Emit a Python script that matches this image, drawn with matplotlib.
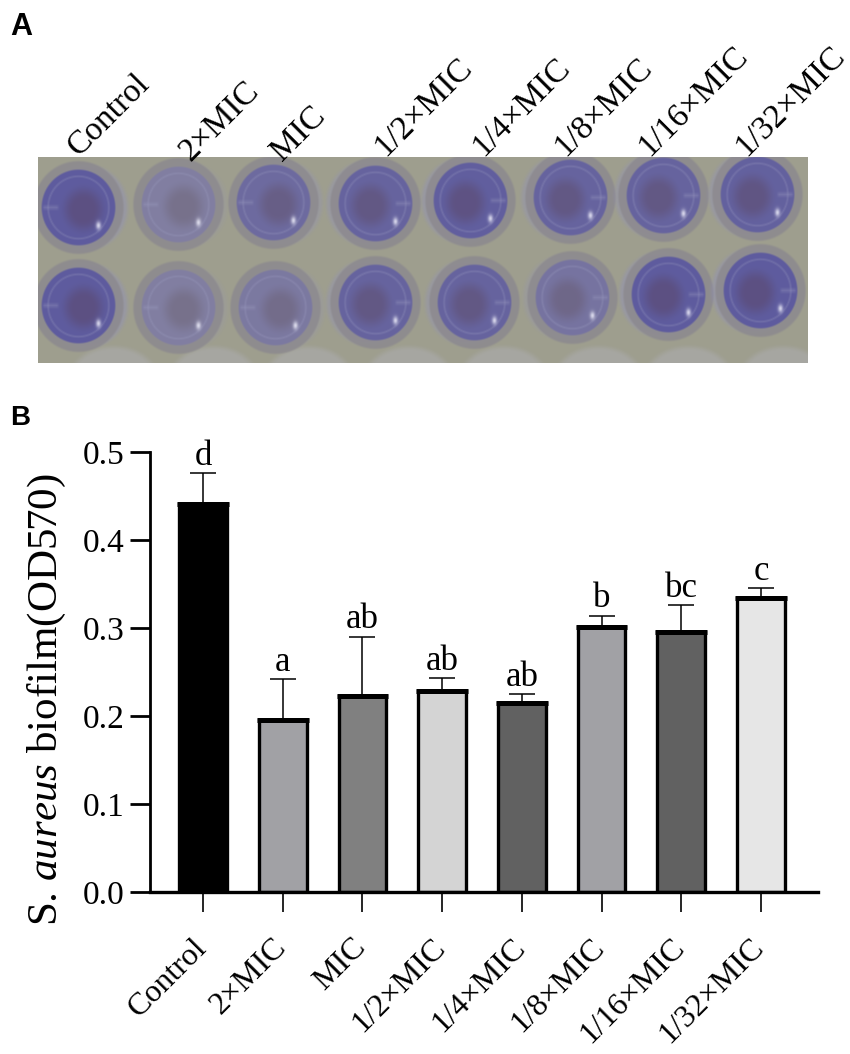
import numpy as np
import matplotlib
matplotlib.use('Agg')
import matplotlib.pyplot as plt
from matplotlib.transforms import ScaledTranslation

plt.rcParams['font.family'] = ['Liberation Serif', 'DejaVu Serif']
plt.rcParams['mathtext.fontset'] = 'custom'
plt.rcParams['mathtext.rm'] = 'Liberation Serif'
plt.rcParams['mathtext.it'] = 'Liberation Serif:italic'

# Bar chart data
groups = ['Control', '2×MIC', 'MIC', '1/2×MIC', '1/4×MIC', '1/8×MIC', '1/16×MIC', '1/32×MIC']
means = [0.441, 0.196, 0.223, 0.228, 0.215, 0.301, 0.296, 0.334]
errors = [0.035, 0.046, 0.067, 0.015, 0.010, 0.013, 0.030, 0.011]
letters = ['d', 'a', 'ab', 'ab', 'ab', 'b', 'bc', 'c']
bar_colors = ['#000000', '#a1a1a5', '#808080', '#d4d4d4', '#616161', '#a1a1a5', '#616161', '#e6e6e6']
y_ticks = [0.0, 0.1, 0.2, 0.3, 0.4, 0.5]

# Well plate photo: stain strength of each well, top and bottom row
stain_top = [1.0, 0.35, 0.72, 0.85, 0.95, 0.85, 0.85, 0.90]
stain_bottom = [1.0, 0.35, 0.45, 0.85, 0.85, 0.55, 1.0, 1.0]

W, H = 850, 1054


def px(x, y):
    return x / W, 1 - y / H


def step(d, a, b):
    t = np.clip((d - a) / (b - a), 0, 1)
    return t * t * (3 - 2 * t)


def paint(img, mask, color):
    mask = mask[..., None]
    return img * (1 - mask) + np.array(color) * mask


def plate_photo():
    h, w = 206, 770
    yy, xx = np.mgrid[0:h, 0:w].astype(float)
    img = np.ones((h, w, 3)) * [0.62, 0.62, 0.56]
    # cups of the next row, just visible along the lower edge
    for cx in [75, 175, 270, 370, 465, 560, 650, 745]:
        d = np.hypot((xx - cx) / 48, (yy - 222) / 36)
        img = paint(img, (1 - step(d, 0.8, 1.0)) * 0.4, [0.70, 0.70, 0.74])
    cx_top = [40, 140, 235, 337, 432, 532, 625, 719]
    cy_top = [50, 47, 45, 46, 43, 40, 38, 37]
    cx_bot = [40, 140, 237, 337, 436, 534, 630, 722]
    cy_bot = [148, 150, 150, 145, 145, 140, 137, 133]
    wells = list(zip(cx_top, cy_top, stain_top)) + list(zip(cx_bot, cy_bot, stain_bottom))
    for cx, cy, s in wells:
        d = np.hypot((xx - cx) / 37, (yy - cy) / 38)
        # lavender crescent of the tilted wall
        side = 1 if cx < 300 else -1
        d2 = np.hypot((xx - cx - side * 8) / 42, (yy - cy) / 43)
        img = paint(img, (1 - step(d2, 0.9, 1.05)) * 0.35 * s, [0.55, 0.55, 0.78])
        # outer rim
        img = paint(img, (1 - step(d, 1.18, 1.26)) * 0.85, [0.55, 0.54, 0.56])
        # stained wall
        wall = np.array([0.58, 0.57, 0.64]) * (1 - s) + np.array([0.37, 0.36, 0.62]) * s
        img = paint(img, 1 - step(d, 0.96, 1.03), wall)
        # ring inside the well
        ring = (1 - np.abs(d - 0.82) / 0.05).clip(0, 1) * 0.25
        img = paint(img, ring, [0.62, 0.62, 0.76])
        # struts, left for the photo's left wells and right for the others
        strut = (1 - np.abs(yy - cy) / 3.5).clip(0, 1) * (1 - step(d, 0.9, 1.0)) * step(d, 0.5, 0.6)
        strut = strut * (xx - cx < 0 if cx < 300 else xx - cx > 0)
        img = paint(img, strut * 0.3, [0.62, 0.62, 0.76])
        # floor of the well, off centre
        df = np.hypot((xx - cx + side * -5) / 24, (yy - cy - 2) / 26)
        floor = np.array([0.52, 0.51, 0.56]) * (1 - s) + np.array([0.36, 0.31, 0.50]) * s
        img = paint(img, (1 - step(df, 0.4, 1.05)) * 0.9, floor)
        # glare
        g = np.exp(-(((xx - cx - 20) / 2.5) ** 2 + ((yy - cy - 18) / 4) ** 2))
        img = paint(img, g * 0.8, [0.93, 0.93, 0.98])
    return img.clip(0, 1)


fig = plt.figure(figsize=(8.5, 10.54), dpi=100)

# Panel A
ax_photo = fig.add_axes([38 / W, 1 - 363 / H, 770 / W, 206 / H])
ax_photo.imshow(plate_photo(), aspect='auto', interpolation='bilinear')
ax_photo.axis('off')

label_x = [79, 190, 282, 385, 483, 565, 649, 746]
label_y = [157, 162, 162, 157, 157, 157, 157, 157]
for name, x, y in zip(groups, label_x, label_y):
    fx, fy = px(x, y)
    fig.text(fx, fy, name, fontsize=24, rotation=45, rotation_mode='anchor',
             ha='left', va='baseline')

fx, fy = px(10, 35)
fig.text(fx, fy, 'A', fontsize=22, fontweight='bold', family='Liberation Sans')
fx, fy = px(10, 425)
fig.text(fx, fy, 'B', fontsize=20, fontweight='bold', family='Liberation Sans')

# Panel B
ax = fig.add_axes([150 / W, 1 - 892 / H, 668 / W, 440 / H])
pos = np.arange(len(groups))
ax.bar(pos, means, width=0.60, color=bar_colors, edgecolor='black', linewidth=2.4, zorder=3)
ax.hlines(means, pos - 0.325, pos + 0.325, color='black', linewidth=3.6, zorder=4)
ax.errorbar(pos, means, yerr=[np.zeros(len(errors)), errors], fmt='none', ecolor='black',
            elinewidth=1.1, capsize=9.7, capthick=1.1, zorder=2)

for i, (m, e, t) in enumerate(zip(means, errors, letters)):
    ax.annotate(t, xy=(i, m + e), xytext=(0, 6), textcoords='offset points',
                ha='center', va='baseline', fontsize=25)

ax.set_xlim(-0.665, 7.716)
ax.set_ylim(0, 0.5)
ax.spines['top'].set_visible(False)
ax.spines['right'].set_visible(False)
ax.spines['left'].set_linewidth(2)
ax.spines['bottom'].set_linewidth(2.4)
ax.spines['bottom'].set_zorder(5)
ax.set_yticks(y_ticks)
ax.set_yticklabels([f'{v:.1f}' for v in y_ticks], fontsize=24)
ax.tick_params(axis='y', length=14.5, width=2, pad=4)
ax.set_xticks(pos)
ax.set_xticklabels(groups, fontsize=23, rotation=45, ha='right', rotation_mode='anchor')
ax.tick_params(axis='x', length=14.5, width=1.2, pad=15)
shift = ScaledTranslation(-8 / 72, 0, fig.dpi_scale_trans)
for lab in ax.get_xticklabels():
    lab.set_transform(lab.get_transform() + shift)

fx, fy = px(47, 700)
fig.text(fx, fy, r'S. $\mathit{aureus}$ biofilm(OD570)', fontsize=31, rotation=90,
         ha='center', va='center')

fig.savefig('out.png', dpi=100)
